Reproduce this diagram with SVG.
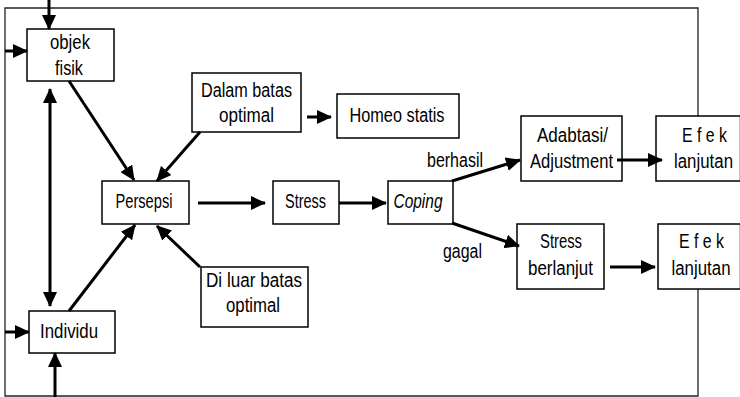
<svg xmlns="http://www.w3.org/2000/svg" width="740" height="397" viewBox="0 0 740 397">
<style>
.box{fill:#fff;stroke:#000;stroke-width:1.5}
.t{font-family:"Liberation Sans",Arial,sans-serif;font-size:20px;fill:#000;text-anchor:middle}
.it{font-style:italic}
.c{stroke:#000;stroke-width:3;fill:none;marker-end:url(#ah)}
.frame{stroke:#222;stroke-width:1.3;fill:none}
</style>
<defs>
<marker id="ah" viewBox="0 0 15 14" refX="14" refY="7" markerWidth="15" markerHeight="14" markerUnits="userSpaceOnUse" orient="auto-start-reverse">
<path d="M0,0 L15,7 L0,14 Z" fill="#000"/>
</marker>
</defs>
<rect width="740" height="397" fill="#fff"/>
<polyline class="frame" points="698,116 698,8 5,8 5,396 698,396 698,289"/>
<g id="objek-fisik"><rect class="box" x="27" y="29" width="87" height="52"/><text class="t" x="70" y="49" textLength="40" lengthAdjust="spacingAndGlyphs">objek</text><text class="t" x="69" y="75" textLength="28" lengthAdjust="spacingAndGlyphs">fisik</text></g>
<g id="individu"><rect class="box" x="29" y="311" width="86" height="42"/><text class="t" x="69" y="338" textLength="58" lengthAdjust="spacingAndGlyphs">Individu</text></g>
<g id="persepsi"><rect class="box" x="102" y="181" width="87" height="43"/><text class="t" x="144" y="208" textLength="57" lengthAdjust="spacingAndGlyphs">Persepsi</text></g>
<g id="dalam-batas"><rect class="box" x="192" y="73" width="109" height="59"/><text class="t" x="246.5" y="97" textLength="91" lengthAdjust="spacingAndGlyphs">Dalam batas</text><text class="t" x="246.5" y="122" textLength="55" lengthAdjust="spacingAndGlyphs">optimal</text></g>
<g id="di-luar-batas"><rect class="box" x="201" y="267" width="107" height="60"/><text class="t" x="254" y="287" textLength="96" lengthAdjust="spacingAndGlyphs">Di luar batas</text><text class="t" x="253" y="312" textLength="54" lengthAdjust="spacingAndGlyphs">optimal</text></g>
<g id="homeo-statis"><rect class="box" x="337" y="94" width="122" height="44"/><text class="t" x="397" y="122" textLength="95" lengthAdjust="spacingAndGlyphs">Homeo statis</text></g>
<g id="stress"><rect class="box" x="273" y="181" width="66" height="43"/><text class="t" x="305.5" y="208" textLength="41" lengthAdjust="spacingAndGlyphs">Stress</text></g>
<g id="coping"><rect class="box" x="388" y="181" width="65" height="43"/><text class="t it" x="418" y="208" textLength="49" lengthAdjust="spacingAndGlyphs">Coping</text></g>
<g id="adabtasi"><rect class="box" x="521" y="116" width="101" height="65"/><text class="t" x="572.5" y="142" textLength="71" lengthAdjust="spacingAndGlyphs">Adabtasi/</text><text class="t" x="571.5" y="168" textLength="83" lengthAdjust="spacingAndGlyphs">Adjustment</text></g>
<g id="efek-1"><rect class="box" x="656" y="116" width="84.5" height="65"/><text class="t" x="704.5" y="142" textLength="45" lengthAdjust="spacingAndGlyphs">E f e k</text><text class="t" x="703.5" y="168" textLength="59" lengthAdjust="spacingAndGlyphs">lanjutan</text></g>
<g id="stress-berlanjut"><rect class="box" x="517" y="224" width="87" height="65"/><text class="t" x="561" y="248" textLength="42" lengthAdjust="spacingAndGlyphs">Stress</text><text class="t" x="560.5" y="275" textLength="65" lengthAdjust="spacingAndGlyphs">berlanjut</text></g>
<g id="efek-2"><rect class="box" x="658" y="224" width="82.5" height="65"/><text class="t" x="701.5" y="248" textLength="45" lengthAdjust="spacingAndGlyphs">E f e k</text><text class="t" x="701" y="275" textLength="59" lengthAdjust="spacingAndGlyphs">lanjutan</text></g>
<g id="labels"><text class="t" x="455" y="167" textLength="56" lengthAdjust="spacingAndGlyphs">berhasil</text><text class="t" x="462.5" y="258" textLength="39" lengthAdjust="spacingAndGlyphs">gagal</text></g>
<g id="connectors">
<line class="c" x1="49" y1="0" x2="49" y2="29"/>
<line class="c" x1="5" y1="51" x2="27" y2="51"/>
<line class="c" x1="50" y1="89" x2="50" y2="306" style="marker-start:url(#ah)"/>
<line class="c" x1="5" y1="332" x2="29" y2="332"/>
<line class="c" x1="55" y1="397" x2="55" y2="353"/>
<line class="c" x1="69" y1="81" x2="134" y2="180"/>
<line class="c" x1="200" y1="132" x2="157" y2="181"/>
<line class="c" x1="69" y1="311" x2="135" y2="225"/>
<line class="c" x1="200" y1="267" x2="157" y2="226"/>
<line class="c" x1="307" y1="117" x2="331" y2="117"/>
<line class="c" x1="198" y1="203" x2="265" y2="203"/>
<line class="c" x1="339" y1="203" x2="386" y2="203"/>
<line class="c" x1="452" y1="181" x2="520" y2="160"/>
<line class="c" x1="452" y1="223" x2="519" y2="246"/>
<line class="c" x1="617" y1="160" x2="662" y2="160"/>
<line class="c" x1="610" y1="267" x2="655" y2="267"/>
</g>
</svg>
